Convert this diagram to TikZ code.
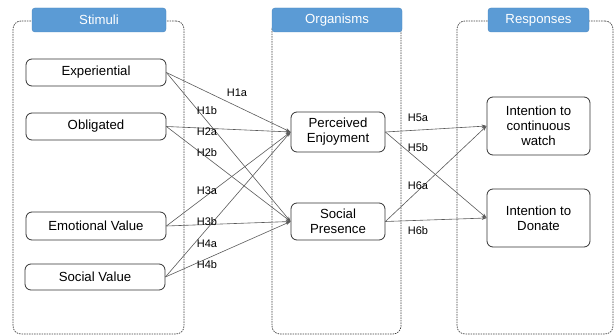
\documentclass[tikz,border=0pt]{standalone}
\usepackage{fontspec}
\setmainfont{Liberation Sans}
\usetikzlibrary{arrows.meta}
\definecolor{hdrblue}{HTML}{5B9BD5}
\definecolor{hdrborder}{HTML}{4A86C0}
\definecolor{linegray}{HTML}{5A5A5A}
\begin{document}
\begin{tikzpicture}[x=1pt,y=-1pt,
  container/.style={draw=black!75, dash pattern=on 1.5pt off 1pt, line width=0.7pt, rounded corners=8pt, minimum width=#1, minimum height=313pt, inner sep=0pt},
  header/.style={draw=hdrborder, fill=hdrblue, rounded corners=3pt, text=white, font=\fontsize{13.2}{15}\selectfont, minimum height=24pt, minimum width=#1, inner sep=0pt},
  box/.style={draw=black!80, line width=0.8pt, rounded corners=6pt, fill=white, font=\fontsize{13.2}{15}\selectfont, align=center, inner sep=0pt},
  lbl/.style={font=\fontsize{11}{13}\selectfont, inner sep=0pt},
  arr/.style={draw=linegray, line width=0.6pt, -{Stealth[length=5pt,width=3.5pt]}}
]
\useasboundingbox (0,0) rectangle (614,336);
% containers
\node[container=171pt] (cs) at (98.5,177.5) {};
\node[container=129pt] (co) at (336.5,177.5) {};
\node[container=156pt] (cr) at (535,177.5) {};
% headers
\node[header=134pt] (hs) at (99,20) {Stimuli};
\node[header=130pt] (ho) at (337,20) {Organisms};
\node[header=101pt] (hr) at (538.5,20) {Responses};
% stimuli
\node[box, minimum width=140pt, minimum height=27pt] (exp) at (96,72.5) {Experiential};
\node[box, minimum width=140pt, minimum height=27pt] (obl) at (96,126.5) {Obligated};
\node[box, minimum width=140pt, minimum height=28pt] (emo) at (96,226) {Emotional Value};
\node[box, minimum width=140pt, minimum height=26pt] (soc) at (95,277) {Social Value};
% organisms
\node[box, minimum width=94pt, minimum height=40pt] (pe) at (338,132) {Perceived\\Enjoyment};
\node[box, minimum width=94pt, minimum height=37pt] (sp) at (338,221.5) {Social\\Presence};
% responses
\node[box, minimum width=103pt, minimum height=58pt] (icw) at (538.5,126) {Intention to\\continuous\\watch};
\node[box, minimum width=103pt, minimum height=58pt] (itd) at (538.5,218) {Intention to\\Donate};
% connectors
\draw[arr] (exp.east) -- (pe.west);
\draw[arr] (exp.east) -- (sp.west);
\draw[arr] (obl.east) -- (pe.west);
\draw[arr] (obl.east) -- (sp.west);
\draw[arr] (emo.east) -- (pe.west);
\draw[arr] (emo.east) -- (sp.west);
\draw[arr] (soc.east) -- (pe.west);
\draw[arr] (soc.east) -- (sp.west);
\draw[arr] (pe.east) -- (icw.west);
\draw[arr] (pe.east) -- (itd.west);
\draw[arr] (sp.east) -- (icw.west);
\draw[arr] (sp.east) -- (itd.west);
% labels
\node[lbl] (l1a) at (237,93) {H1a};
\node[lbl] (l1b) at (207,111) {H1b};
\node[lbl] (l2a) at (207,132) {H2a};
\node[lbl] (l2b) at (207,153) {H2b};
\node[lbl] (l3a) at (207,191) {H3a};
\node[lbl] (l3b) at (207,222) {H3b};
\node[lbl] (l4a) at (207,244) {H4a};
\node[lbl] (l4b) at (207,265) {H4b};
\node[lbl] (l5a) at (418,118) {H5a};
\node[lbl] (l5b) at (418,148) {H5b};
\node[lbl] (l6a) at (418,186) {H6a};
\node[lbl] (l6b) at (418,231) {H6b};
\end{tikzpicture}
\end{document}
